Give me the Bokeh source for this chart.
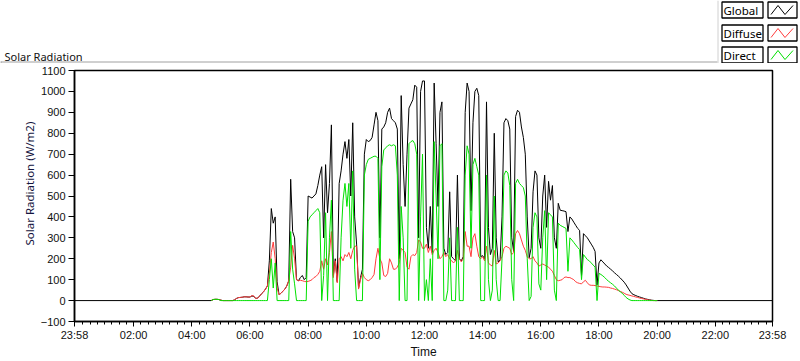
from bokeh.plotting import figure
from bokeh.layouts import column
from bokeh.models import Range1d, FixedTicker, Title
from bokeh.core.properties import value
from bokeh.embed import file_html
from bokeh.resources import INLINE

TITLE = "Solar Radiation"
X_LABEL = "Time"
Y_LABEL = "Solar Radiation (W/m2)"
SERIES_NAMES = ["Global", "Diffuse", "Direct"]
SERIES_COLORS = ["#000000", "#ff3c3c", "#00e000"]

# x positions are minutes after midnight
X_TICKS = [-2, 120, 240, 360, 480, 600, 720, 840, 960, 1080, 1200, 1320, 1438]
X_TICK_LABELS = ["23:58", "02:00", "04:00", "06:00", "08:00", "10:00", "12:00",
                 "14:00", "16:00", "18:00", "20:00", "22:00", "23:58"]
Y_TICKS = [-100, 0, 100, 200, 300, 400, 500, 600, 700, 800, 900, 1000, 1100]

DAY_START = -2      # 23:58
DAY_END = 1438      # 23:58
SAMPLE_START = 280  # 04:40, first sample of the readings below
SAMPLE_STEP = 4     # minutes between samples

# W/m2, one row per hour (04:40 row is partial, last value is 20:00)
GLOBAL = (
    [0, 5, 6, 6, 5] +
    [2, 0, 0, 0, 0, 0, 0, 3, 10, 14, 15, 16, 18, 18, 17] +
    [17, 22, 20, 10, 12, 22, 33, 42, 55, 70, 190, 440, 370, 400, 90] +
    [28, 35, 45, 55, 70, 95, 580, 330, 300, 100, 95, 110, 120, 100, 110] +
    [500, 495, 490, 500, 510, 550, 600, 640, 300, 650, 420, 560, 840, 120, 200] +
    [90, 560, 620, 700, 760, 680, 770, 500, 850, 400, 270, 60, 110, 150, 700] +
    [770, 760, 765, 780, 840, 900, 860, 300, 820, 830, 850, 900, 920, 870, 860] +
    [850, 820, 200, 980, 650, 450, 700, 920, 940, 960, 1030, 1020, 300, 1000, 1050] +
    [1050, 350, 250, 450, 230, 1040, 750, 450, 900, 950, 250, 220, 230, 520, 210] +
    [200, 190, 600, 200, 190, 210, 900, 1040, 1000, 430, 850, 1000, 1015, 980, 210] +
    [215, 200, 950, 350, 220, 250, 800, 300, 185, 195, 400, 850, 870, 860, 820] +
    [300, 235, 880, 910, 900, 830, 780, 700, 400, 205, 250, 520, 620, 600, 300] +
    [250, 500, 600, 350, 570, 480, 550, 300, 250, 465, 432, 430, 428, 425, 330] +
    [400, 390, 375, 360, 345, 336, 120, 320, 310, 300, 285, 270, 255, 235, 75] +
    [180, 195, 185, 175, 165, 158, 150, 142, 133, 125, 117, 108, 98, 88, 75] +
    [60, 45, 33, 28, 24, 20, 17, 14, 11, 8, 6, 4, 2, 1, 0] +
    [0]
)
DIFFUSE = (
    [0, 5, 6, 6, 5] +
    [2, 0, 0, 0, 0, 0, 0, 3, 10, 14, 15, 16, 18, 18, 17] +
    [17, 24, 22, 10, 12, 22, 33, 42, 55, 70, 130, 230, 280, 200, 60] +
    [28, 35, 45, 55, 70, 95, 160, 264, 200, 100, 95, 97, 95, 92, 90] +
    [92, 95, 100, 110, 115, 125, 140, 190, 150, 200, 170, 230, 330, 110, 190] +
    [85, 200, 210, 190, 220, 210, 230, 200, 240, 260, 260, 55, 100, 130, 110] +
    [100, 95, 100, 110, 125, 200, 250, 200, 180, 120, 115, 130, 200, 180, 150] +
    [150, 160, 180, 250, 240, 230, 160, 150, 210, 220, 215, 230, 290, 280, 250] +
    [250, 270, 230, 260, 220, 240, 250, 230, 200, 210, 230, 210, 220, 200, 190] +
    [180, 190, 240, 200, 185, 200, 330, 260, 260, 210, 300, 320, 260, 210, 200] +
    [210, 190, 260, 180, 170, 165, 240, 175, 180, 190, 210, 250, 260, 255, 250] +
    [220, 230, 320, 335, 320, 290, 260, 240, 210, 200, 200, 210, 190, 180, 165] +
    [170, 175, 170, 165, 160, 150, 140, 120, 100, 95, 97, 100, 110, 113, 110] +
    [110, 105, 100, 90, 85, 82, 80, 90, 97, 85, 75, 73, 73, 72, 70] +
    [68, 66, 65, 65, 64, 63, 60, 58, 55, 52, 48, 44, 40, 35, 30] +
    [27, 25, 22, 20, 17, 15, 12, 10, 8, 6, 4, 2, 1, 0, 0] +
    [0]
)
DIRECT = (
    [0, 5, 6, 6, 5] +
    [0, 0, 0, 0, 0, 0, 0, 0, 0, 0, 0, 0, 0, 0, 0] +
    [0, 0, 0, 0, 0, 0, 0, 0, 0, 0, 100, 200, 60, 180, 0] +
    [0, 0, 0, 0, 0, 0, 330, 150, 80, 0, 0, 0, 0, 0, 0] +
    [380, 400, 410, 420, 430, 440, 420, 0, 120, 420, 0, 300, 480, 0, 0] +
    [0, 0, 300, 480, 560, 450, 560, 250, 620, 150, 0, 0, 0, 0, 600] +
    [650, 675, 680, 685, 690, 690, 680, 100, 640, 720, 730, 740, 745, 740, 745] +
    [740, 600, 0, 450, 300, 0, 0, 750, 760, 765, 750, 700, 0, 400, 700] +
    [0, 100, 0, 200, 0, 760, 500, 200, 740, 750, 0, 0, 50, 300, 0] +
    [0, 0, 350, 0, 0, 0, 600, 740, 700, 250, 650, 680, 640, 600, 0] +
    [0, 0, 600, 100, 0, 50, 500, 100, 0, 0, 200, 600, 620, 610, 550] +
    [100, 0, 560, 580, 560, 550, 540, 500, 200, 0, 20, 350, 420, 400, 80] +
    [50, 300, 430, 100, 420, 410, 400, 50, 0, 370, 360, 355, 350, 345, 140] +
    [300, 290, 278, 266, 254, 244, 100, 220, 208, 196, 190, 180, 170, 160, 0] +
    [130, 125, 118, 110, 100, 92, 85, 78, 70, 60, 50, 42, 35, 25, 15] +
    [8, 3, 0, 0, 0, 0, 0, 0, 0, 0, 0, 0, 0, 0, 0] +
    [0]
)

times = [SAMPLE_START + SAMPLE_STEP * i for i in range(len(GLOBAL))]

FONT = "Noto Sans"
AXFONT = "Liberation Sans"
W, H = 800, 361
HDR_H = 63


def no_align(fig):
    if "frame_align" in fig.properties():
        fig.frame_align = False


# ---------------- header strip: title, panel edge, legend (pixel coordinates) ----------------
hdr = figure(width=W, height=HDR_H, title=None, output_backend="svg", toolbar_location=None,
             x_range=Range1d(0, W), y_range=Range1d(HDR_H, 0),
             x_axis_type=None, y_axis_type=None,
             min_border=0, min_border_left=0, min_border_right=0,
             min_border_top=0, min_border_bottom=0)
hdr.outline_line_color = None
hdr.grid.visible = False
no_align(hdr)

hdr.text(x=[4], y=[56], text=[TITLE], text_font=value(FONT), text_font_size=value("11px"),
         text_color="#111111", text_baseline="alphabetic", text_align="left")
hdr.segment(x0=[0], y0=[61.5], x1=[717], y1=[61.5], line_color="#a0a0a0", line_width=1)
hdr.segment(x0=[0.5], y0=[61], x1=[0.5], y1=[HDR_H], line_color="#a0a0a0", line_width=1)
hdr.segment(x0=[717.5], y0=[0], x1=[717.5], y1=[HDR_H], line_color="#d0d0d0", line_width=1)

LEG_TOPS = [1.5, 24.5, 46.5]
LEG_BOX_H = 16
TXT_L, TXT_R = 721.5, 762.5
SMP_L, SMP_R = 767.5, 796.5
bots = [t + LEG_BOX_H for t in LEG_TOPS]
n = len(SERIES_NAMES)
hdr.quad(left=[TXT_L] * n, right=[TXT_R] * n, top=LEG_TOPS, bottom=bots,
         fill_color="white", line_color="black", line_width=1.3)
hdr.quad(left=[SMP_L] * n, right=[SMP_R] * n, top=LEG_TOPS, bottom=bots,
         fill_color="white", line_color="black", line_width=1.3)
hdr.text(x=[TXT_L + 1.5] * n, y=[(t + b) / 2 + 0.5 for t, b in zip(LEG_TOPS, bots)],
         text=SERIES_NAMES, text_font=value(FONT), text_font_size=value("11.5px"),
         text_color="black", text_baseline="middle", text_align="left")
zig_x = [SMP_L + 3, SMP_L + 10, SMP_L + 17, SMP_L + 25]
hdr.multi_line(xs=[zig_x] * n,
               ys=[[b - 3.5, t + 3.5, b - 3.5, t + 3.5] for t, b in zip(LEG_TOPS, bots)],
               line_color=SERIES_COLORS, line_width=1)

# ---------------- main chart: frame 74..772 x 70..322 ----------------
p = figure(width=W, height=H - HDR_H, title=None, output_backend="svg", toolbar_location=None,
           x_range=Range1d(DAY_START, DAY_END), y_range=Range1d(Y_TICKS[0], Y_TICKS[-1]),
           min_border_left=74, min_border_right=28, min_border_top=70 - HDR_H,
           min_border_bottom=39,
           background_fill_color="white", border_fill_color="white")
no_align(p)
p.grid.visible = False
p.outline_line_color = "black"
p.outline_line_width = 1.5

minor = [m for m in range(15, DAY_END, 15) if m not in X_TICKS]
p.xaxis.ticker = FixedTicker(ticks=X_TICKS, minor_ticks=minor)
p.xaxis.major_label_overrides = {t: l for t, l in zip(X_TICKS, X_TICK_LABELS)}
p.yaxis.ticker = FixedTicker(ticks=Y_TICKS, minor_ticks=[])

for ax in (p.xaxis[0], p.yaxis[0]):
    ax.axis_line_color = "black"
    ax.axis_line_width = 1.5
    ax.major_tick_line_color = "black"
    ax.minor_tick_line_color = "black"
    ax.major_tick_in = 0
    ax.minor_tick_in = 0
    ax.major_label_text_font = AXFONT
    ax.major_label_text_font_size = "11px"
    ax.major_label_text_color = "#111111"
p.xaxis.major_tick_out = 5
p.xaxis.minor_tick_out = 3
p.xaxis.major_label_standoff = 2
p.xaxis.axis_label = X_LABEL
p.xaxis.axis_label_standoff = 1
p.xaxis.axis_label_text_font = AXFONT
p.xaxis.axis_label_text_font_size = "12px"
p.xaxis.axis_label_text_font_style = "normal"
p.xaxis.axis_label_text_color = "#111111"
p.yaxis.major_tick_out = 6
p.yaxis.minor_tick_out = 0
p.yaxis.major_label_standoff = 3

p.add_layout(Title(text=Y_LABEL, align="left", offset=76, standoff=2,
                   text_font=FONT, text_font_size="11.5px", text_font_style="normal",
                   text_color="#141440"), "left")

p.line([DAY_START] + times + [DAY_END], [0] + GLOBAL + [0], color=SERIES_COLORS[0], line_width=1)
p.line(times, DIFFUSE, color=SERIES_COLORS[1], line_width=1)
p.line(times, DIRECT, color=SERIES_COLORS[2], line_width=1)

layout = column(hdr, p, spacing=0)
open("out.html", "w").write(file_html(layout, INLINE))
